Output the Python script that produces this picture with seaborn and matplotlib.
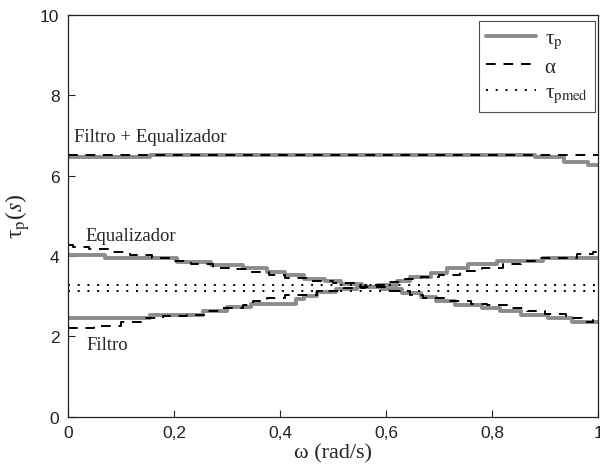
import numpy as np
import pandas as pd
import matplotlib
matplotlib.use("Agg")
import matplotlib.pyplot as plt
import seaborn as sns

# Filtro + Equalizador (constant delay curve)
top_w = [0, 0.155, 0.88, 0.935, 0.98, 1.0]
top_tau = [6.45, 6.52, 6.45, 6.34, 6.27, 6.27]
top_alpha_w = [0, 1.0]
top_alpha = [6.52, 6.52]

# Equalizador
eq_w = [0, 0.07, 0.205, 0.27, 0.33, 0.375, 0.41, 0.445, 0.485, 0.515, 0.555,
        0.59, 0.63, 0.665, 0.695, 0.73, 0.78, 0.815, 0.855, 0.905, 0.95, 1.0]
eq_tau = [4.03, 3.95, 3.85, 3.78, 3.70, 3.61, 3.53, 3.43, 3.37, 3.30, 3.24,
          3.17, 3.08, 2.97, 2.89, 2.79, 2.71, 2.62, 2.54, 2.46, 2.36, 2.36]
eq_alpha_w = [0, 0.01, 0.04, 0.08, 0.117, 0.158, 0.198, 0.233, 0.273, 0.308,
              0.34, 0.38, 0.41, 0.455, 0.5, 0.55, 0.6, 0.645, 0.67, 0.72,
              0.76, 0.79, 0.83, 0.865, 0.9, 0.94, 0.97, 0.99, 1.0]
eq_alpha = [4.28, 4.22, 4.18, 4.11, 4.03, 3.95, 3.87, 3.80, 3.71, 3.68,
            3.61, 3.54, 3.46, 3.38, 3.33, 3.24, 3.14, 3.03, 2.95, 2.89,
            2.81, 2.79, 2.70, 2.64, 2.55, 2.46, 2.37, 2.40, 2.40]

# Filtro
fi_w = [0, 0.155, 0.255, 0.30, 0.345, 0.43, 0.445, 0.47, 0.505, 0.545, 0.585,
        0.62, 0.645, 0.685, 0.715, 0.755, 0.81, 0.895, 1.0]
fi_tau = [2.45, 2.54, 2.64, 2.72, 2.81, 2.93, 3.01, 3.10, 3.18, 3.23, 3.28,
          3.38, 3.47, 3.58, 3.70, 3.80, 3.88, 3.96, 3.96]
fi_alpha_w = [0, 0.05, 0.1, 0.14, 0.18, 0.225, 0.26, 0.29, 0.33, 0.35, 0.375,
              0.41, 0.47, 0.52, 0.56, 0.6, 0.635, 0.665, 0.7, 0.74, 0.78,
              0.82, 0.855, 0.885, 0.92, 0.96, 0.99, 1.0]
fi_alpha = [2.22, 2.27, 2.37, 2.45, 2.52, 2.54, 2.63, 2.70, 2.79, 2.89, 2.95,
            3.02, 3.13, 3.20, 3.27, 3.35, 3.43, 3.47, 3.53, 3.62, 3.70,
            3.79, 3.87, 3.95, 3.96, 4.04, 4.10, 4.10]

# tau_pmed (mean delays)
med_w = [0, 1.0]
med_eq = [3.28, 3.28]
med_fi = [3.14, 3.14]

xticks = [0, 0.2, 0.4, 0.6, 0.8, 1.0]
xticklabels = ["0", "0,2", "0,4", "0,6", "0,8", "1"]
yticks = [0, 2, 4, 6, 8, 10]

sns.set_theme(style="white")
plt.rcParams["font.family"] = ["Liberation Sans", "DejaVu Sans"]
plt.rcParams["mathtext.fontset"] = "stix"

fig = plt.figure(figsize=(6.0, 4.77), dpi=100)
ax = fig.add_axes([0.113, 0.124, 0.884, 0.843])

gray = "#8c8c8c"
tau_kw = dict(color=gray, linewidth=2.8, drawstyle="steps-post")
alpha_kw = dict(color="black", linewidth=1.4, linestyle=(0, (5, 4)), drawstyle="steps-post")

sns.lineplot(x=top_w, y=top_tau, ax=ax, label=r"τ$_\mathrm{p}$", **tau_kw)
sns.lineplot(x=eq_w, y=eq_tau, ax=ax, **tau_kw)
sns.lineplot(x=fi_w, y=fi_tau, ax=ax, **tau_kw)

sns.lineplot(x=top_alpha_w, y=top_alpha, ax=ax, label="α", **alpha_kw)
sns.lineplot(x=eq_alpha_w, y=eq_alpha, ax=ax, **alpha_kw)
sns.lineplot(x=fi_alpha_w, y=fi_alpha, ax=ax, **alpha_kw)

med_kw = dict(color="black", linewidth=1.4, linestyle=(0, (1, 4)))
sns.lineplot(x=med_w, y=med_eq, ax=ax, label=r"τ$_\mathrm{pmed}$", **med_kw)
sns.lineplot(x=med_w, y=med_fi, ax=ax, **med_kw)

ax.set_xlim(0, 1)
ax.set_ylim(0, 10)
ax.set_xticks(xticks)
ax.set_xticklabels(xticklabels)
ax.set_yticks(yticks)
ax.tick_params(direction="in", length=5, width=0.8, labelsize=12.5, colors="#222222",
               left=True, bottom=True, pad=6)
for s in ax.spines.values():
    s.set_color("#222222")
    s.set_linewidth(0.9)

serif = ["Liberation Serif", "DejaVu Serif"]
ax.set_xlabel("ω (rad/s)", fontsize=16, family=serif, labelpad=2)
ax.set_ylabel(r"τ$_\mathrm{p}$($s$)", fontsize=17, family=serif, labelpad=6)

ax.text(0.012, 6.98, "Filtro + Equalizador", fontsize=13.5, family=serif, va="center")
ax.text(0.034, 4.52, "Equalizador", fontsize=13.5, family=serif, va="center")
ax.text(0.036, 1.80, "Filtro", fontsize=13.5, family=serif, va="center")

leg = ax.legend(loc="upper right", frameon=True, fancybox=False,
                prop={"family": serif, "size": 15},
                handlelength=2.4, handletextpad=0.4, borderpad=0.35,
                labelspacing=0.3, borderaxespad=0.0,
                bbox_to_anchor=(0.994, 0.984))
leg.get_frame().set_edgecolor("#222222")
leg.get_frame().set_linewidth(0.8)

fig.savefig("out.png", dpi=100)
